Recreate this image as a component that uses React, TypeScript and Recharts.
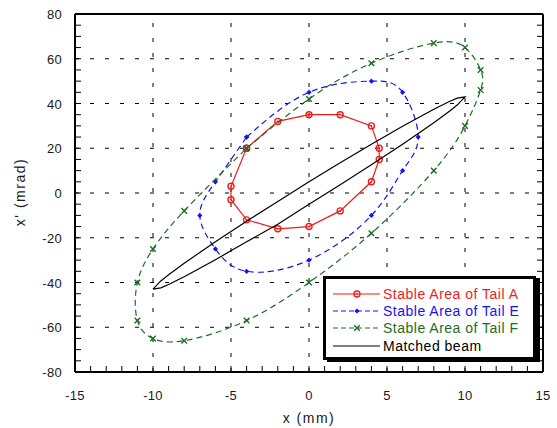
import React from 'react';
import { ComposedChart, Scatter, XAxis, YAxis, ReferenceLine, Legend } from 'recharts';

// stable areas (x in mm, x' in mrad), closed loops
const tailAX = [-4, -2, 0, 2, 4, 4.5, 4.5, 4, 2, 0, -2, -4, -5, -5, -4];
const tailAY = [20, 32, 35, 35, 30, 20, 15, 5, -8, -15, -16, -12, -3, 3, 20];

const tailEX = [-4, 0, 4, 6, 7, 6, 4, 0, -4, -6, -7, -6, -4];
const tailEY = [25, 45, 50, 45, 25, 10, -10, -30, -35, -25, -10, 5, 25];

const tailFX = [-4, 0, 4, 8, 10, 11, 11, 10, 8, 4, 0, -4, -8, -10, -11, -11, -10, -8, -4];
const tailFY = [20, 42, 58, 67, 65, 55, 46, 30, 10, -18, -40, -57, -66, -65, -57, -40, -25, -8, 20];

// matched beam ellipse outline
const beamX = [-10, -9.5, -9, -8, -6, -4, -2, 0, 2, 4, 6, 8, 9, 9.5, 10, 9.5, 9, 8, 6, 4, 2, 0, -2, -4, -6, -8, -9, -9.5, -10];
const beamY = [-43, -39.3, -36.5, -31.4, -21.8, -12.6, -3.8, 5, 13.5, 21.8, 29.8, 37.4, 40.9, 42.4, 43, 39.3, 36.5, 31.4, 21.8, 12.6, 3.7, -5, -14, -21.8, -29.8, -37.4, -40.9, -42.4, -43];

const xTicks = [-15, -14, -13, -12, -11, -10, -9, -8, -7, -6, -5, -4, -3, -2, -1, 0, 1, 2, 3, 4, 5, 6, 7, 8, 9, 10, 11, 12, 13, 14, 15];
const yTicks = [-80, -75, -70, -65, -60, -55, -50, -45, -40, -35, -30, -25, -20, -15, -10, -5, 0, 5, 10, 15, 20, 25, 30, 35, 40, 45, 50, 55, 60, 65, 70, 75, 80];
const gridX = [-10, -5, 0, 5, 10];
const gridY = [-60, -40, -20, 0, 20, 40, 60];

const FONT = 'Arial, "Liberation Sans", sans-serif';
const RED = '#ee1d1d';
const BLUE = '#1414f0';
const GREEN = '#1d6e22';

const toPoints = (xs: number[], ys: number[]) => xs.map((x, i) => ({ x, y: ys[i] }));

const series = [
  { name: 'Stable Area of Tail A', data: toPoints(tailAX, tailAY), color: RED, dash: undefined, marker: 'circle', curve: 'linear' },
  { name: 'Stable Area of Tail E', data: toPoints(tailEX, tailEY), color: BLUE, dash: '6 4', marker: 'diamond', curve: 'natural' },
  { name: 'Stable Area of Tail F', data: toPoints(tailFX, tailFY), color: GREEN, dash: '6 4', marker: 'cross', curve: 'natural' },
  { name: 'Matched beam', data: toPoints(beamX, beamY), color: '#000', dash: undefined, marker: 'none', curve: 'linear' },
];

function Marker({ kind, cx, cy, color }: any) {
  if (kind === 'circle') {
    return (
      <g>
        <circle cx={cx} cy={cy} r={3} fill="none" stroke={color} strokeWidth={1.4} />
        <circle cx={cx} cy={cy} r={0.9} fill={color} />
      </g>
    );
  }
  if (kind === 'diamond') {
    return <polygon points={`${cx},${cy - 2.6} ${cx + 2.6},${cy} ${cx},${cy + 2.6} ${cx - 2.6},${cy}`} fill={color} />;
  }
  if (kind === 'cross') {
    const s = 2.8;
    return (
      <path
        d={`M${cx - s},${cy - s}L${cx + s},${cy + s}M${cx - s},${cy + s}L${cx + s},${cy - s}`}
        stroke={color}
        strokeWidth={1.4}
        fill="none"
      />
    );
  }
  return <g />;
}

const XTick = (props: any) => {
  const { x, y, payload } = props;
  if (payload.value % 5 !== 0) return <g />;
  return (
    <text x={x} y={y + 34} textAnchor="middle" fontSize={13} fontFamily={FONT} fill="#1a1a1a" letterSpacing={0.3}>
      {payload.value}
    </text>
  );
};

const YTick = (props: any) => {
  const { x, y, payload } = props;
  if (payload.value % 20 !== 0) return <g />;
  return (
    <text x={x - 19} y={y + 5} textAnchor="end" fontSize={13} fontFamily={FONT} fill="#1a1a1a" letterSpacing={0.3}>
      {payload.value}
    </text>
  );
};

const NoTick = () => <g />;

const YLabel = (props: any) => {
  const vb = props.viewBox || { x: 0, y: 14, height: 358 };
  const cx = vb.x + 20;
  const cy = vb.y + vb.height / 2 - 1;
  return (
    <text
      transform={`translate(${cx},${cy}) rotate(-90)`}
      textAnchor="middle"
      dominantBaseline="central"
      fontSize={14}
      fontFamily={FONT}
      fill="#1a1a1a"
      letterSpacing={1.5}
    >
      {"x'  (mrad)"}
    </text>
  );
};

const LegendBox = () => (
  <div
    style={{
      border: '3px solid #000',
      boxShadow: '4px 2px 0 #000',
      background: '#fff',
      boxSizing: 'border-box',
      width: 213,
      height: 84,
      padding: '6px 0 0 7px',
      fontFamily: FONT,
      fontSize: 14,
      letterSpacing: 0.5,
    }}
  >
    {series.map((s) => (
      <div key={s.name} style={{ display: 'flex', alignItems: 'center', height: 17.3, color: s.color, whiteSpace: 'nowrap' }}>
        <svg width={50} height={10} style={{ flex: 'none' }}>
          <line x1={0} x2={47} y1={5} y2={5} stroke={s.color} strokeWidth={1.2} strokeDasharray={s.dash ? '5 3' : undefined} />
          <Marker kind={s.marker} cx={24} cy={5} color={s.color} />
        </svg>
        <span>{s.name}</span>
      </div>
    ))}
  </div>
);

export default function App() {
  const axisLine = { stroke: '#000', strokeWidth: 2 };
  const tickLine = { stroke: '#000', strokeWidth: 1 };
  return (
    <div style={{ position: 'absolute', left: 0, top: 0, background: '#fff' }}>
      <ComposedChart width={557} height={428} margin={{ top: 13, right: 13, bottom: 0, left: 0 }}>
        <XAxis
          xAxisId="bx"
          type="number"
          dataKey="x"
          domain={[-15, 15]}
          ticks={xTicks}
          interval={0}
          allowDataOverflow
          height={56}
          tickSize={-6}
          tickMargin={0}
          axisLine={axisLine}
          tickLine={tickLine}
          tick={<XTick />}
          label={{ value: 'x  (mm)', position: 'insideBottom', offset: 5, fontSize: 14, fontFamily: FONT, fill: '#1a1a1a', letterSpacing: 1.5 }}
        />
        <XAxis
          xAxisId="tx"
          orientation="top"
          type="number"
          domain={[-15, 15]}
          ticks={xTicks}
          interval={0}
          allowDataOverflow
          height={1}
          tickSize={-6}
          axisLine={axisLine}
          tickLine={tickLine}
          tick={<NoTick />}
        />
        <YAxis
          yAxisId="ly"
          type="number"
          dataKey="y"
          domain={[-80, 80]}
          ticks={yTicks}
          interval={0}
          allowDataOverflow
          width={75}
          tickSize={-6}
          tickMargin={0}
          axisLine={axisLine}
          tickLine={tickLine}
          tick={<YTick />}
          label={<YLabel />}
        />
        <YAxis
          yAxisId="ry"
          orientation="right"
          type="number"
          domain={[-80, 80]}
          ticks={yTicks}
          interval={0}
          allowDataOverflow
          width={1}
          tickSize={-6}
          axisLine={axisLine}
          tickLine={tickLine}
          tick={<NoTick />}
        />

        {gridX.map((v) => (
          <ReferenceLine key={`gx${v}`} x={v} xAxisId="bx" yAxisId="ly" stroke="#000" strokeWidth={1} strokeDasharray="4 11" />
        ))}
        {gridY.map((v) => (
          <ReferenceLine key={`gy${v}`} y={v} xAxisId="bx" yAxisId="ly" stroke="#000" strokeWidth={1} strokeDasharray="4 11" />
        ))}

        {series.map((s) => (
          <Scatter
            key={s.name}
            name={s.name}
            data={s.data}
            xAxisId="bx"
            yAxisId="ly"
            fill={s.color}
            line={{ stroke: s.color, strokeWidth: 1.2, strokeDasharray: s.dash }}
            lineType="joint"
            lineJointType={s.curve as any}
            shape={(p: any) => <Marker kind={s.marker} cx={p.cx} cy={p.cy} color={s.color} />}
            isAnimationActive={false}
          />
        ))}

        <Legend
          layout="vertical"
          align="center"
          verticalAlign="middle"
          width={213}
          height={84}
          wrapperStyle={{ left: 323, top: 276, width: 213, height: 84 }}
          content={<LegendBox />}
        />
      </ComposedChart>
    </div>
  );
}
